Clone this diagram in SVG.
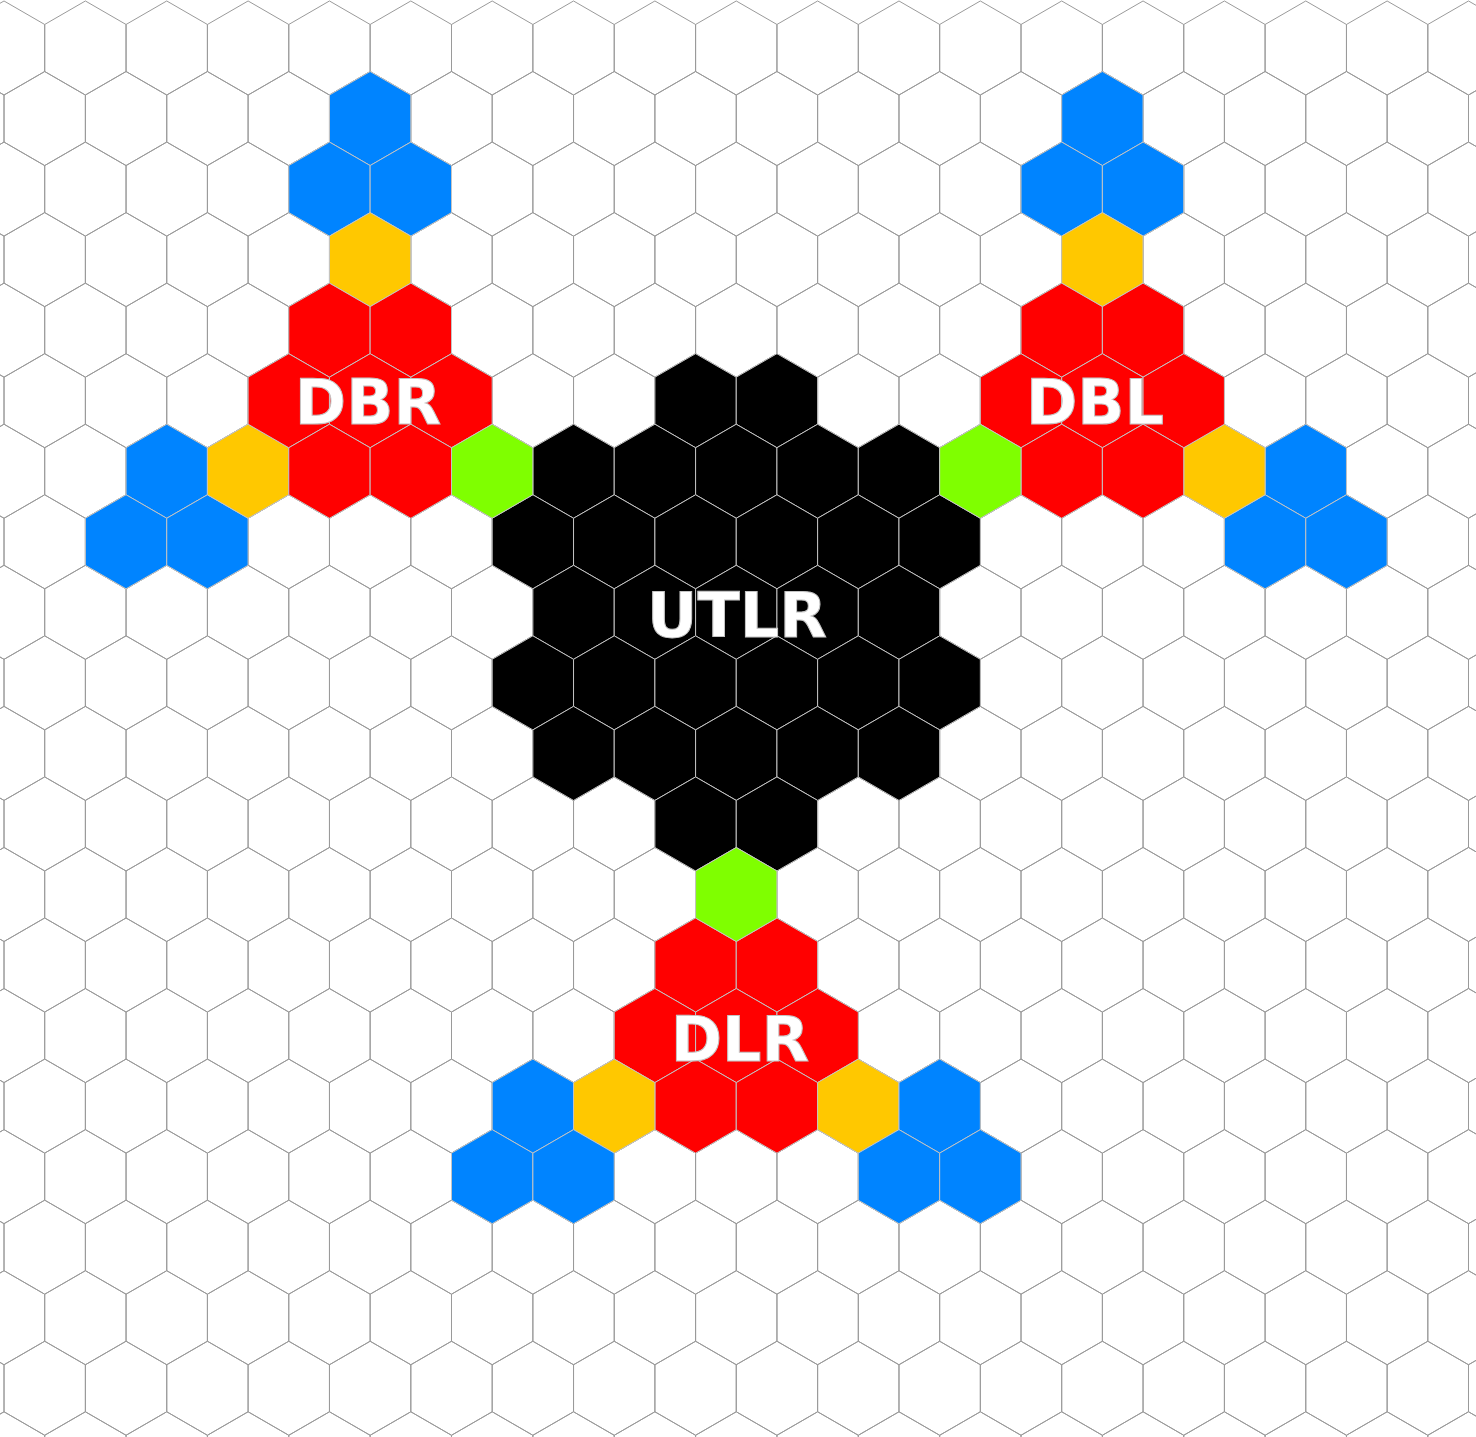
<svg xmlns="http://www.w3.org/2000/svg" xmlns:xlink="http://www.w3.org/1999/xlink" width="1476" height="1437" viewBox="0 0 1476 1437">
<style>
.grid{fill:none;stroke:#9a9a9a;stroke-width:1}
.c{stroke:#c4c4c4;stroke-width:1}
.b{fill:#0084ff}
.y{fill:#ffc800}
.r{fill:#ff0000}
.g{fill:#7fff00}
.k{fill:#000000}
.lbl{font-family:"DejaVu Sans","Liberation Sans",sans-serif;font-weight:bold;font-size:62px;fill:#ffffff;text-anchor:middle}
</style>
<defs>
<polygon id="hx" points="0,-47.03 40.68,-23.52 40.68,23.52 0,47.03 -40.68,23.52 -40.68,-23.52"/>
<g id="row">
<use href="#hx" x="-36.66"/><use href="#hx" x="44.7"/><use href="#hx" x="126.06"/><use href="#hx" x="207.42"/><use href="#hx" x="288.78"/><use href="#hx" x="370.14"/><use href="#hx" x="451.5"/><use href="#hx" x="532.86"/><use href="#hx" x="614.22"/><use href="#hx" x="695.58"/><use href="#hx" x="776.94"/><use href="#hx" x="858.3"/><use href="#hx" x="939.66"/><use href="#hx" x="1021.02"/><use href="#hx" x="1102.38"/><use href="#hx" x="1183.74"/><use href="#hx" x="1265.1"/><use href="#hx" x="1346.46"/><use href="#hx" x="1427.82"/><use href="#hx" x="1509.18"/>
</g>
</defs>
<rect x="0" y="0" width="1476" height="1437" fill="#ffffff"/>
<g id="grid" class="grid">
<use href="#row" x="40.68" y="48"/>
<use href="#row" x="0" y="118.54"/>
<use href="#row" x="40.68" y="189.08"/>
<use href="#row" x="0" y="259.62"/>
<use href="#row" x="40.68" y="330.16"/>
<use href="#row" x="0" y="400.7"/>
<use href="#row" x="40.68" y="471.24"/>
<use href="#row" x="0" y="541.78"/>
<use href="#row" x="40.68" y="612.32"/>
<use href="#row" x="0" y="682.86"/>
<use href="#row" x="40.68" y="753.4"/>
<use href="#row" x="0" y="823.94"/>
<use href="#row" x="40.68" y="894.48"/>
<use href="#row" x="0" y="965.02"/>
<use href="#row" x="40.68" y="1035.56"/>
<use href="#row" x="0" y="1106.1"/>
<use href="#row" x="40.68" y="1176.64"/>
<use href="#row" x="0" y="1247.18"/>
<use href="#row" x="40.68" y="1317.72"/>
<use href="#row" x="0" y="1388.26"/>
<use href="#row" x="40.68" y="1458.8"/>
</g>
<g id="node-utlr" class="c k">
<use href="#hx" x="695.58" y="400.7"/><use href="#hx" x="776.94" y="400.7"/>
<use href="#hx" x="573.54" y="471.24"/><use href="#hx" x="654.9" y="471.24"/><use href="#hx" x="736.26" y="471.24"/><use href="#hx" x="817.62" y="471.24"/><use href="#hx" x="898.98" y="471.24"/>
<use href="#hx" x="532.86" y="541.78"/><use href="#hx" x="614.22" y="541.78"/><use href="#hx" x="695.58" y="541.78"/><use href="#hx" x="776.94" y="541.78"/><use href="#hx" x="858.3" y="541.78"/><use href="#hx" x="939.66" y="541.78"/>
<use href="#hx" x="573.54" y="612.32"/><use href="#hx" x="654.9" y="612.32"/><use href="#hx" x="736.26" y="612.32"/><use href="#hx" x="817.62" y="612.32"/><use href="#hx" x="898.98" y="612.32"/>
<use href="#hx" x="532.86" y="682.86"/><use href="#hx" x="614.22" y="682.86"/><use href="#hx" x="695.58" y="682.86"/><use href="#hx" x="776.94" y="682.86"/><use href="#hx" x="858.3" y="682.86"/><use href="#hx" x="939.66" y="682.86"/>
<use href="#hx" x="573.54" y="753.4"/><use href="#hx" x="654.9" y="753.4"/><use href="#hx" x="736.26" y="753.4"/><use href="#hx" x="817.62" y="753.4"/><use href="#hx" x="898.98" y="753.4"/>
<use href="#hx" x="695.58" y="823.94"/><use href="#hx" x="776.94" y="823.94"/>
<text class="lbl" x="737" y="637">UTLR</text>
</g>
<g id="node-dbr" class="c">
<g class="b">
<use href="#hx" x="370.14" y="118.54"/><use href="#hx" x="329.46" y="189.08"/><use href="#hx" x="410.82" y="189.08"/>
<use href="#hx" x="166.74" y="471.24"/><use href="#hx" x="126.06" y="541.78"/><use href="#hx" x="207.42" y="541.78"/>
</g>
<g class="y"><use href="#hx" x="370.14" y="259.62"/><use href="#hx" x="248.1" y="471.24"/></g>
<g class="r">
<use href="#hx" x="329.46" y="330.16"/><use href="#hx" x="410.82" y="330.16"/>
<use href="#hx" x="288.78" y="400.7"/><use href="#hx" x="370.14" y="400.7"/><use href="#hx" x="451.5" y="400.7"/>
<use href="#hx" x="329.46" y="471.24"/><use href="#hx" x="410.82" y="471.24"/>
</g>
<text class="lbl" x="368" y="424">DBR</text>
</g>
<g id="node-dbl" class="c">
<g class="b">
<use href="#hx" x="1102.38" y="118.54"/><use href="#hx" x="1061.7" y="189.08"/><use href="#hx" x="1143.06" y="189.08"/>
<use href="#hx" x="1305.78" y="471.24"/><use href="#hx" x="1265.1" y="541.78"/><use href="#hx" x="1346.46" y="541.78"/>
</g>
<g class="y"><use href="#hx" x="1102.38" y="259.62"/><use href="#hx" x="1224.42" y="471.24"/></g>
<g class="r">
<use href="#hx" x="1061.7" y="330.16"/><use href="#hx" x="1143.06" y="330.16"/>
<use href="#hx" x="1021.02" y="400.7"/><use href="#hx" x="1102.38" y="400.7"/><use href="#hx" x="1183.74" y="400.7"/>
<use href="#hx" x="1061.7" y="471.24"/><use href="#hx" x="1143.06" y="471.24"/>
</g>
<text class="lbl" x="1095" y="424">DBL</text>
</g>
<g id="node-dlr" class="c">
<g class="r">
<use href="#hx" x="695.58" y="965.02"/><use href="#hx" x="776.94" y="965.02"/>
<use href="#hx" x="654.9" y="1035.56"/><use href="#hx" x="736.26" y="1035.56"/><use href="#hx" x="817.62" y="1035.56"/>
<use href="#hx" x="695.58" y="1106.1"/><use href="#hx" x="776.94" y="1106.1"/>
</g>
<g class="y"><use href="#hx" x="614.22" y="1106.1"/><use href="#hx" x="858.3" y="1106.1"/></g>
<g class="b">
<use href="#hx" x="532.86" y="1106.1"/><use href="#hx" x="939.66" y="1106.1"/>
<use href="#hx" x="492.18" y="1176.64"/><use href="#hx" x="573.54" y="1176.64"/>
<use href="#hx" x="898.98" y="1176.64"/><use href="#hx" x="980.34" y="1176.64"/>
</g>
<text class="lbl" x="740" y="1061">DLR</text>
</g>
<g id="connectors" class="c g">
<use href="#hx" x="492.18" y="471.24"/>
<use href="#hx" x="980.34" y="471.24"/>
<use href="#hx" x="736.26" y="894.48"/>
</g>
</svg>
